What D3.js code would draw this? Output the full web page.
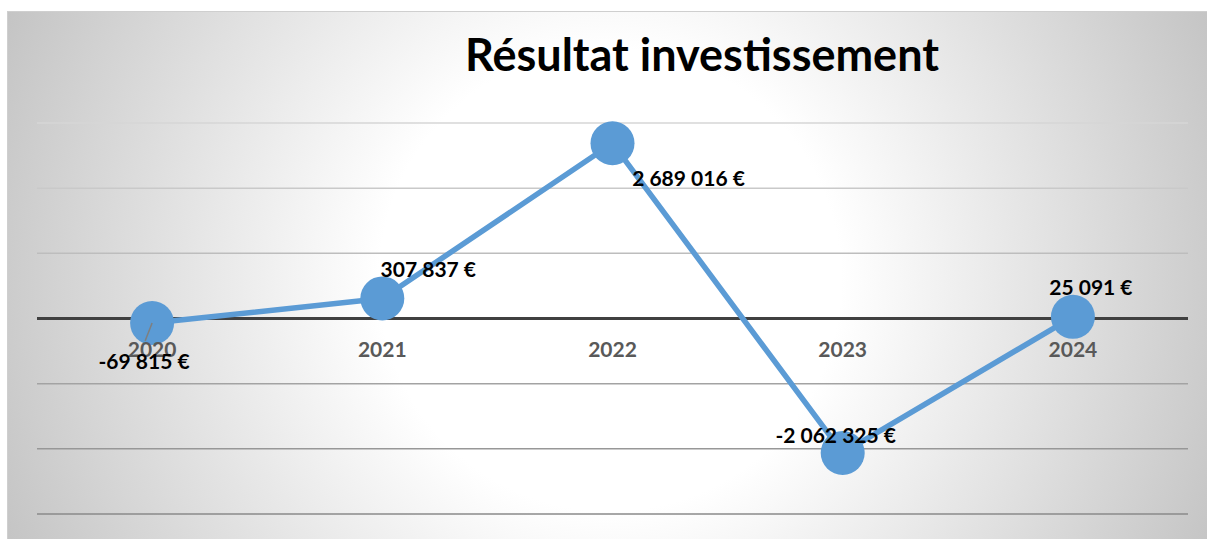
<!DOCTYPE html>
<html>
<head>
<meta charset="utf-8">
<script src="https://cdn.jsdelivr.net/npm/d3@7"></script>
<style>
  body { margin: 0; background: #fff; }
  svg text { font-family: Lato, "Open Sans", sans-serif; font-weight: bold; }
</style>
</head>
<body>
<svg id="chart" width="1207" height="539"></svg>
<script>
// data
const years = ['2020', '2021', '2022', '2023', '2024'];
const values = [-69815, 307837, 2689016, -2062325, 25091];
const yTicks = [-3000000, -2000000, -1000000, 0, 1000000, 2000000, 3000000];
const labels = ['-69 815 €', '307 837 €', '2 689 016 €', '-2 062 325 €', '25 091 €'];
// where each label sits relative to its point (dx, dy of the text centre/baseline)
const labelOffsets = [[-8, 46], [46, -21], [76, 43], [-7, -10], [18, -22]];

let svg = d3.select('svg#chart');
let width = 1207, height = 539;

// background gradient
let defs = svg.append('defs');
let grad = defs.append('radialGradient')
  .attr('id', 'bg')
  .attr('gradientUnits', 'userSpaceOnUse')
  .attr('cx', 610).attr('cy', 280).attr('r', 660);
grad.append('stop').attr('offset', 0).attr('stop-color', '#ffffff');
grad.append('stop').attr('offset', 0.35).attr('stop-color', '#ffffff');
grad.append('stop').attr('offset', 1).attr('stop-color', '#c4c4c4');

svg.append('rect')
  .attr('x', 7.5).attr('y', 11.5)
  .attr('width', width).attr('height', height)
  .attr('fill', 'url(#bg)')
  .attr('stroke', '#cfcfcf');

// scales
let xScale = d3.scaleBand()
  .domain(years)
  .range([37, 1188]);

let yScale = d3.scaleLinear()
  .domain([-3000000, 3000000])
  .range([514, 123]);

let gridColor = d3.scaleLinear()
  .domain([3000000, -3000000])
  .range(['#d6d6d6', '#8a8a8a']);

// gridlines
svg.append('g')
  .selectAll('line')
  .data(yTicks.filter(d => d != 0))
  .enter().append('line')
  .attr('x1', 37).attr('x2', 1188)
  .attr('y1', d => yScale(d)).attr('y2', d => yScale(d))
  .attr('stroke', d => gridColor(d))
  .attr('stroke-width', 1.5);

// zero axis
svg.append('line')
  .attr('x1', 37).attr('x2', 1188)
  .attr('y1', yScale(0)).attr('y2', yScale(0))
  .attr('stroke', '#404040')
  .attr('stroke-width', 3);

let cx = (d, i) => xScale(years[i]) + xScale.bandwidth() / 2;

// line
let lineGenerator = d3.line()
  .x((d, i) => cx(d, i))
  .y(d => yScale(d));

svg.append('path')
  .datum(values)
  .attr('d', lineGenerator)
  .attr('fill', 'none')
  .attr('stroke', '#5b9bd5')
  .attr('stroke-width', 5.5)
  .attr('stroke-linejoin', 'round');

// markers
svg.append('g')
  .selectAll('circle')
  .data(values)
  .enter().append('circle')
  .attr('cx', cx)
  .attr('cy', d => yScale(d))
  .attr('r', 22)
  .attr('fill', '#5b9bd5');

// leader line for the first label
svg.append('line')
  .attr('x1', cx(values[0], 0)).attr('y1', yScale(values[0]))
  .attr('x2', cx(values[0], 0) - 7).attr('y2', yScale(values[0]) + 18)
  .attr('stroke', '#7f7f7f')
  .attr('stroke-width', 1.5);

// category labels
svg.append('g')
  .selectAll('text')
  .data(years)
  .enter().append('text')
  .attr('x', d => xScale(d) + xScale.bandwidth() / 2)
  .attr('y', 357)
  .attr('text-anchor', 'middle')
  .attr('fill', '#595959')
  .style('font-size', '21px')
  .text(d => d);

// data labels
svg.append('g')
  .selectAll('text')
  .data(values)
  .enter().append('text')
  .attr('x', (d, i) => cx(d, i) + labelOffsets[i][0])
  .attr('y', (d, i) => yScale(d) + labelOffsets[i][1])
  .attr('text-anchor', 'middle')
  .attr('fill', '#000')
  .style('font-size', '21px')
  .text((d, i) => labels[i]);

// title
svg.append('text')
  .attr('x', 702)
  .attr('y', 71)
  .attr('text-anchor', 'middle')
  .attr('fill', '#000')
  .style('font-size', '45px')
  .text('Résultat investissement');
</script>
</body>
</html>
